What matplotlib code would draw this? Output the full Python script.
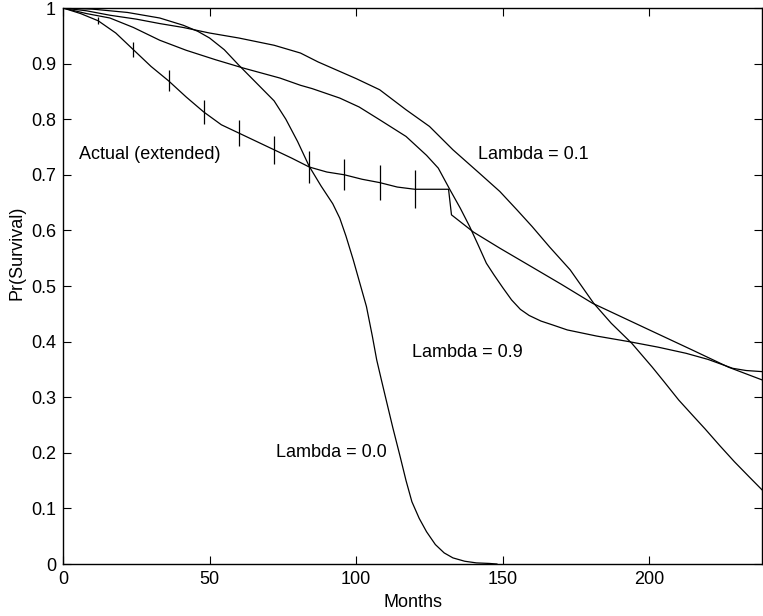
import matplotlib
matplotlib.use("Agg")
import matplotlib.pyplot as plt
from matplotlib.ticker import FormatStrFormatter

plt.rcParams['font.family'] = ['Liberation Sans', 'DejaVu Sans']

# Kaplan-Meier style "actual" survival, with smooth extension after month 132
actual_x = [0, 6, 12, 18, 24, 30, 36, 42, 48, 54, 60, 66, 72, 78, 84, 90, 96, 102, 108, 114, 120,
            131.5, 132.5, 140, 149, 160, 170, 180.6, 200, 215, 227, 238.5]
actual_y = [1.0, 0.99, 0.977, 0.955, 0.925, 0.895, 0.869, 0.84, 0.813, 0.79, 0.775, 0.76, 0.745,
            0.73, 0.714, 0.705, 0.700, 0.692, 0.686, 0.678, 0.674,
            0.674, 0.628, 0.597, 0.568, 0.534, 0.503, 0.469, 0.421, 0.384, 0.354, 0.331]

# error bars on the actual curve
err_x = [12, 24, 36, 48, 60, 72, 84, 96, 108, 120]
err_y = [0.977, 0.925, 0.869, 0.813, 0.775, 0.745, 0.714, 0.700, 0.686, 0.674]
err_half = [0.006, 0.014, 0.019, 0.022, 0.024, 0.025, 0.028, 0.028, 0.031, 0.034]

lam00_x = [0, 10, 22, 33, 41, 46, 50, 55, 60, 66, 72, 76, 80, 84, 88, 92, 94.4, 96.5, 99, 103.5,
           105.5, 107, 108.6, 110, 112.5, 115, 117, 119, 121.5, 124, 127, 130, 133, 137, 141,
           145.5, 148]
lam00_y = [1.0, 0.998, 0.992, 0.982, 0.969, 0.958, 0.946, 0.925, 0.897, 0.865, 0.833, 0.80, 0.76,
           0.715, 0.68, 0.648, 0.622, 0.59, 0.547, 0.463, 0.41, 0.367, 0.331, 0.3, 0.245, 0.193,
           0.15, 0.112, 0.082, 0.058, 0.035, 0.02, 0.011, 0.005, 0.002, 0.001, 0.0]

lam01_x = [0, 8, 16, 25, 33, 41, 50, 60, 72, 81, 87, 100, 108, 117, 125, 133, 142, 149, 155, 160,
           166, 173, 181, 187, 194, 201, 205, 210, 215, 219, 224, 229, 234, 238.5]
lam01_y = [1.0, 0.995, 0.987, 0.98, 0.972, 0.965, 0.955, 0.946, 0.933, 0.919, 0.903, 0.873, 0.853,
           0.817, 0.787, 0.745, 0.703, 0.67, 0.636, 0.607, 0.57, 0.529, 0.469, 0.433, 0.397, 0.354,
           0.328, 0.295, 0.266, 0.243, 0.213, 0.184, 0.157, 0.133]

lam09_x = [0, 8, 16, 24, 33, 42, 52, 61.5, 74, 81, 85, 94.4, 101, 108, 117, 124, 128, 132, 135.5,
           138.7, 141.5, 144.4, 147, 150, 153, 156, 159, 163, 167, 172, 182, 193, 203, 212.5, 220,
           228.4, 233, 238.5]
lam09_y = [1.0, 0.99, 0.982, 0.965, 0.942, 0.924, 0.907, 0.892, 0.874, 0.861, 0.855, 0.838, 0.822,
           0.799, 0.769, 0.735, 0.712, 0.673, 0.64, 0.607, 0.575, 0.541, 0.52, 0.497, 0.475, 0.458,
           0.447, 0.437, 0.43, 0.421, 0.41, 0.400, 0.39, 0.379, 0.368, 0.352, 0.348, 0.346]

fig = plt.figure(figsize=(7.63, 6.16), dpi=100)
ax = fig.add_axes([0.0826, 0.0844, 0.9164, 0.9026])

lw = 0.9
ax.plot(actual_x, actual_y, color='k', lw=lw)
ax.vlines(err_x, [y - h for y, h in zip(err_y, err_half)], [y + h for y, h in zip(err_y, err_half)],
          color='k', lw=lw)
ax.plot(lam00_x, lam00_y, color='k', lw=lw)
ax.plot(lam01_x, lam01_y, color='k', lw=lw)
ax.plot(lam09_x, lam09_y, color='k', lw=lw)

fs = 13
ax.text(5.5, 0.736, 'Actual (extended)', fontsize=fs, va='center', ha='left')
ax.text(141.4, 0.736, 'Lambda = 0.1', fontsize=fs, va='center', ha='left')
ax.text(119, 0.381, 'Lambda = 0.9', fontsize=fs, va='center', ha='left')
ax.text(72.6, 0.20, 'Lambda = 0.0', fontsize=fs, va='center', ha='left')

ax.set_xlim(0, 238.5)
ax.set_ylim(0, 1)
ax.set_xticks([0, 50, 100, 150, 200])
ax.set_yticks([i / 10 for i in range(11)])
ax.yaxis.set_major_formatter(FormatStrFormatter('%g'))
ax.tick_params(direction='in', length=6, width=0.8, top=True, right=True, labelsize=fs, pad=5)
for s in ax.spines.values():
    s.set_linewidth(1.0)

ax.set_xlabel('Months', fontsize=fs, labelpad=4)
ax.set_ylabel('Pr(Survival)', fontsize=fs)
ax.yaxis.set_label_coords(-0.054, 0.56)

fig.savefig('out.png', dpi=100)
